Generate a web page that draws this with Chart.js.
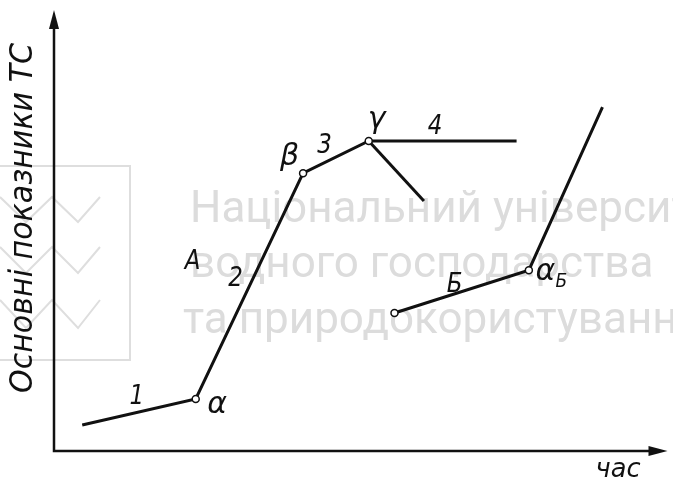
<!DOCTYPE html>
<html>
<head>
<meta charset="utf-8">
<script src="https://cdn.jsdelivr.net/npm/chart.js@4"></script>
<style>
  html, body { margin: 0; padding: 0; background: #fff; }
  #c { display: block; }
</style>
</head>
<body>
<canvas id="c" width="673" height="483"></canvas>
<script>
// Етапи зміни показників ТС (умовні одиниці)
const lineA = [
  { x: 4.6, y: 5.9 },    // початок ділянки 1
  { x: 23.1, y: 11.8 },  // α
  { x: 40.6, y: 63.0 },  // β
  { x: 51.3, y: 70.3 },  // γ
  { x: 75.4, y: 70.3 }   // кінець ділянки 4
];
const branchG = [
  { x: 51.3, y: 70.3 },
  { x: 60.3, y: 56.7 }
];
const lineB = [
  { x: 55.5, y: 31.3 },
  { x: 77.4, y: 41.0 },  // αБ
  { x: 89.4, y: 78.0 }
];
const ringsA = [0, 3.5, 3.5, 3.5, 0];
const ringsB = [3.5, 3.5, 0];

// підписи на схемі
const labelTexts = ["1", "A", "2", "3", "4", "Б"];
const labelX = [13.5, 22.6, 29.6, 44.1, 62.1, 65.3];
const labelY = [12.2, 42.9, 39.0, 69.2, 73.5, 37.6];
const greekTexts = ["α", "β", "γ", "α"];
const greekX = [26.6, 38.4, 52.6, 80.1];
const greekY = [10.4, 66.7, 75.1, 40.6];

const axisTitleY = "Основні показники ТС";
const axisTitleX = "час";
const watermark = ["Національний університет", "водного господарства", "та природокористування"];

function putText(ctx, txt, x, y, font, opts) {
  opts = opts || {};
  ctx.save();
  ctx.font = font;
  ctx.translate(x, y);
  if (opts.rotate) ctx.rotate(opts.rotate);
  let sx = opts.sx || 1;
  if (opts.width) sx = opts.width / ctx.measureText(txt).width;
  ctx.scale(sx, 1);
  ctx.textAlign = opts.align || "center";
  ctx.textBaseline = opts.base || "middle";
  ctx.fillStyle = opts.color || "#111";
  ctx.fillText(txt, 0, 0);
  ctx.restore();
}

const schemePlugin = {
  id: "scheme",
  beforeDatasetsDraw(chart) {
    const ctx = chart.ctx;
    const xs = chart.scales.x, ys = chart.scales.y;
    const x0 = xs.getPixelForValue(0), y0 = ys.getPixelForValue(0);
    const xEnd = xs.getPixelForValue(100), yEnd = ys.getPixelForValue(100);

    // водяний знак
    ctx.save();
    ctx.strokeStyle = "#dedede";
    ctx.lineWidth = 2;
    ctx.beginPath();
    ctx.moveTo(0, 166); ctx.lineTo(130, 166); ctx.lineTo(130, 360); ctx.lineTo(0, 360);
    ctx.stroke();
    [[197, 222], [247, 273], [300, 328]].forEach(r => {
      ctx.beginPath();
      ctx.moveTo(0, r[0]);
      ctx.lineTo(26, r[1]);
      ctx.lineTo(52, r[0]);
      ctx.lineTo(78, r[1]);
      ctx.lineTo(100, r[0]);
      ctx.stroke();
    });
    ctx.restore();
    putText(ctx, watermark[0], 190, 222, "44px Roboto", { align: "left", base: "alphabetic", color: "#dcdcdc" });
    putText(ctx, watermark[1], 190, 277, "44px Roboto", { align: "left", base: "alphabetic", color: "#dcdcdc" });
    putText(ctx, watermark[2], 183, 333, "44px Roboto", { align: "left", base: "alphabetic", color: "#dcdcdc" });

    // осі зі стрілками
    ctx.save();
    ctx.strokeStyle = "#111";
    ctx.fillStyle = "#111";
    ctx.lineWidth = 2.5;
    ctx.beginPath();
    ctx.moveTo(x0, yEnd + 14);
    ctx.lineTo(x0, y0);
    ctx.lineTo(xEnd - 14, y0);
    ctx.stroke();
    ctx.beginPath();
    ctx.moveTo(x0, yEnd); ctx.lineTo(x0 - 5, yEnd + 19); ctx.lineTo(x0 + 5, yEnd + 19);
    ctx.closePath(); ctx.fill();
    ctx.beginPath();
    ctx.moveTo(xEnd, y0); ctx.lineTo(xEnd - 19, y0 - 5); ctx.lineTo(xEnd - 19, y0 + 5);
    ctx.closePath(); ctx.fill();
    ctx.restore();

    putText(ctx, axisTitleY, 24, 218, "italic 32px 'DejaVu Sans'", { rotate: -Math.PI / 2, width: 350 });
    putText(ctx, axisTitleX, 618, 470, "italic 27px 'DejaVu Sans'", { width: 45 });
  },
  afterDatasetsDraw(chart) {
    const ctx = chart.ctx;
    const xs = chart.scales.x, ys = chart.scales.y;
    labelTexts.forEach((t, i) => {
      putText(ctx, t, xs.getPixelForValue(labelX[i]), ys.getPixelForValue(labelY[i]),
        "italic 27px 'DejaVu Sans'", { sx: 0.85 });
    });
    greekTexts.forEach((t, i) => {
      putText(ctx, t, xs.getPixelForValue(greekX[i]), ys.getPixelForValue(greekY[i]),
        "italic 30px 'DejaVu Sans'");
    });
    // індекс Б при α
    putText(ctx, "Б", xs.getPixelForValue(greekX[3]) + 16, ys.getPixelForValue(greekY[3]) + 10,
      "italic 20px 'DejaVu Sans'", { sx: 0.85 });
  }
};

const common = {
  showLine: true,
  borderColor: "#111",
  borderWidth: 3,
  pointBackgroundColor: "#fff",
  pointBorderColor: "#111",
  pointBorderWidth: 1.5,
  fill: false,
  tension: 0
};

new Chart(document.getElementById("c"), {
  type: "scatter",
  data: {
    datasets: [
      Object.assign({ label: "A", data: lineA, pointRadius: ringsA }, common),
      Object.assign({ label: "γ", data: branchG, pointRadius: 0 }, common),
      Object.assign({ label: "Б", data: lineB, pointRadius: ringsB }, common)
    ]
  },
  options: {
    responsive: false,
    animation: false,
    devicePixelRatio: 1,
    layout: { padding: { left: 54, right: 5, top: 10, bottom: 32 } },
    plugins: { legend: { display: false }, tooltip: { enabled: false } },
    scales: {
      x: { type: "linear", min: 0, max: 100, display: false },
      y: { type: "linear", min: 0, max: 100, display: false }
    }
  },
  plugins: [schemePlugin]
});
</script>
</body>
</html>
